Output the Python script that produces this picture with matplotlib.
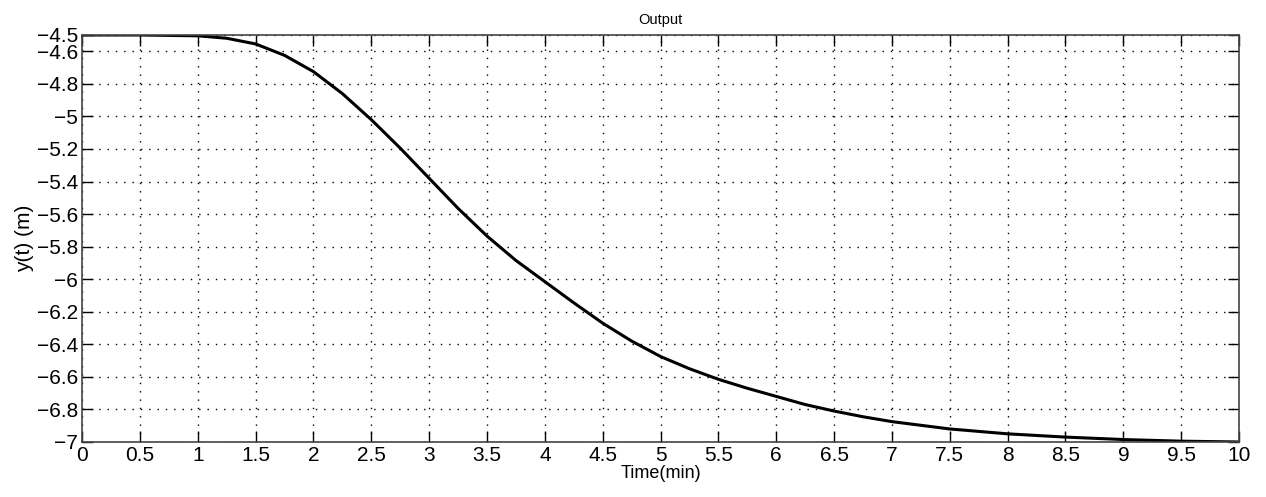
import numpy as np
import matplotlib.pyplot as plt

# Valori (tempo in minuti, uscita in metri)
time_min = [0, 0.5, 1.0, 1.25, 1.5, 1.75, 2.0, 2.25, 2.5, 2.75, 3.0, 3.25, 3.5,
            3.75, 4.0, 4.25, 4.5, 4.75, 5.0, 5.25, 5.5, 5.75, 6.0, 6.25, 6.5,
            6.75, 7.0, 7.5, 8.0, 8.5, 9.0, 9.5, 10.0]
y_out = [-4.5, -4.5, -4.505, -4.52, -4.555, -4.625, -4.725, -4.86, -5.02, -5.195,
         -5.38, -5.565, -5.735, -5.885, -6.015, -6.145, -6.27, -6.38, -6.475,
         -6.55, -6.615, -6.67, -6.72, -6.77, -6.81, -6.845, -6.875, -6.92,
         -6.95, -6.97, -6.985, -6.995, -7.0]

xticks = np.arange(0, 10.01, 0.5)
yticks = [-4.5, -4.6, -4.8, -5, -5.2, -5.4, -5.6, -5.8, -6, -6.2, -6.4, -6.6, -6.8, -7]
xtick_labels = ["0", "0.5", "1", "1.5", "2", "2.5", "3", "3.5", "4", "4.5", "5",
                "5.5", "6", "6.5", "7", "7.5", "8", "8.5", "9", "9.5", "10"]
ytick_labels = ["\u22124.5", "\u22124.6", "\u22124.8", "\u22125", "\u22125.2", "\u22125.4",
                "\u22125.6", "\u22125.8", "\u22126", "\u22126.2", "\u22126.4", "\u22126.6",
                "\u22126.8", "\u22127"]

plt.rcParams['font.family'] = ['Liberation Sans', 'DejaVu Sans']

fig = plt.figure(figsize=(12.66, 4.97), dpi=100)
ax = fig.add_axes([0.0648, 0.1107, 0.9139, 0.8189])

ax.plot(time_min, y_out, color='black', linewidth=2.2, solid_joinstyle='round')

ax.set_xlim(0, 10)
ax.set_ylim(-7, -4.5)
ax.set_xticks(xticks)
ax.set_xticklabels(xtick_labels)
ax.set_yticks(yticks)
ax.set_yticklabels(ytick_labels)
ax.tick_params(direction='in', top=True, right=True, length=8, width=1,
               labelsize=15, pad=3)
ax.grid(True, color='black', linestyle=(0, (1, 5)), linewidth=1)
for s in ax.spines.values():
    s.set_color('#444444')
    s.set_linewidth(1.2)

ax.set_title("Output", fontsize=10.5, pad=8)
ax.set_xlabel("Time(min)", fontsize=13, labelpad=0)
ax.set_ylabel("y(t) (m)", fontsize=15, labelpad=2)

fig.savefig("out.png", dpi=100)
